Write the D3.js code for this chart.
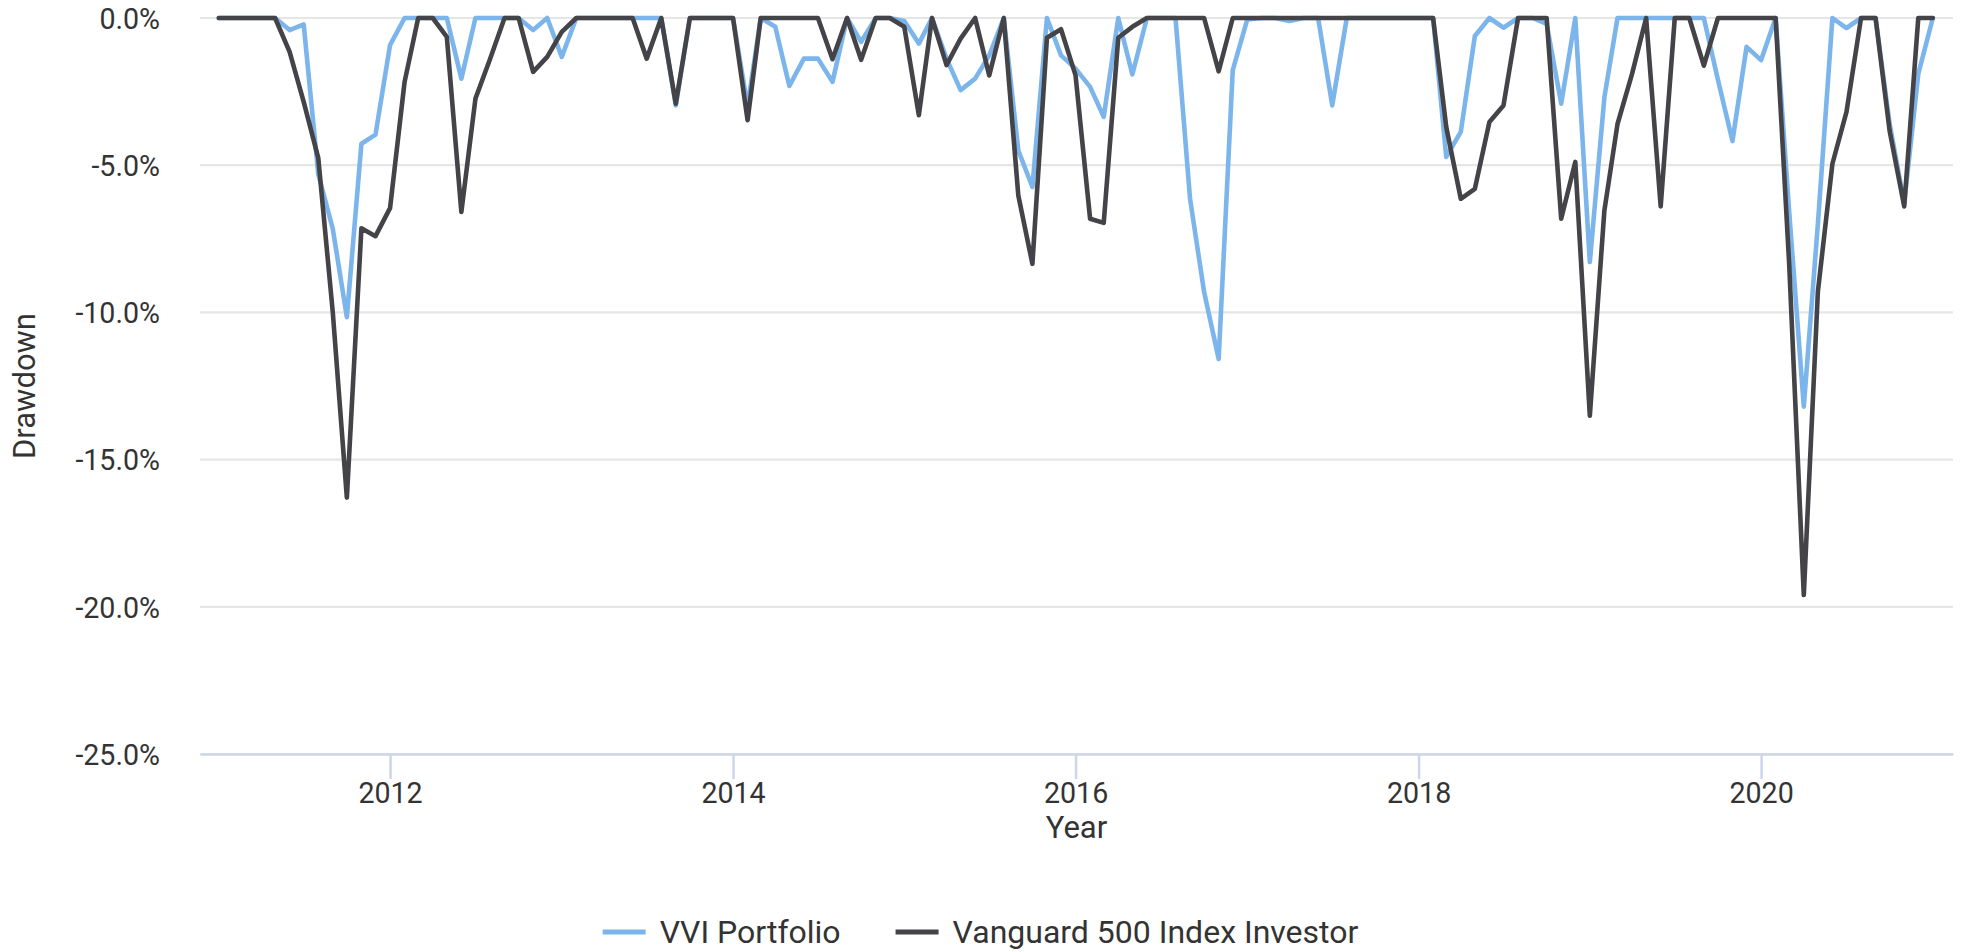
<!DOCTYPE html>
<html lang="en">
<head>
  <meta charset="UTF-8">
  <title>Drawdown</title>
  <script src="https://d3js.org/d3.v7.min.js"></script>
  <style>
    html, body {
      margin: 0;
      background: #fff;
    }
    svg {
      display: block;
    }
    text {
      font-family: Roboto, "Noto Sans", sans-serif;
      fill: #333;
    }
  </style>
</head>
<body>
  <svg width="1961" height="952"></svg>
  <script>
    // monthly points, Jan 2011 .. Jan 2021
    const months = d3.timeMonth.range(new Date(2011, 0, 1), new Date(2021, 1, 1));

    // drawdown in %, one row per year
    const vviPortfolio = [
      0, 0, 0, 0, 0, -0.41, -0.22, -5.3, -7.16, -10.16, -4.27, -3.96,
      -0.92, 0, 0, 0, 0, -2.06, 0, 0, 0, 0, -0.41, 0,
      -1.32, 0, 0, 0, 0, 0, 0, 0, -2.97, 0, 0, 0,
      0, -3.0, 0, -0.3, -2.31, -1.38, -1.38, -2.17, 0, -0.81, 0, 0,
      -0.1, -0.87, 0, -1.38, -2.45, -2.06, -1.27, 0, -4.5, -5.74, 0, -1.27,
      -1.72, -2.34, -3.36, 0, -1.92, 0, 0, 0, -6.14, -9.31, -11.58, -1.77,
      -0.05, 0, 0, -0.1, 0, 0, -2.97, 0, 0, 0, 0, 0,
      0, 0, -4.72, -3.87, -0.61, 0, -0.33, 0, 0, -0.2, -2.91, 0,
      -8.29, -2.7, 0, 0, 0, 0, 0, 0, 0, -2.1, -4.18, -0.98,
      -1.43, 0, -6.6, -13.2, -7.0, 0, -0.34, 0, 0, -3.6, -6.3, -1.9,
      0
    ];
    const vanguard500 = [
      0, 0, 0, 0, 0, -1.15, -2.85, -4.75, -10.0, -16.29, -7.14, -7.41,
      -6.46, -2.17, 0, 0, -0.64, -6.59, -2.74, -1.4, 0, 0, -1.83, -1.32,
      -0.47, 0, 0, 0, 0, 0, -1.38, 0, -2.91, 0, 0, 0,
      0, -3.47, 0, 0, 0, 0, 0, -1.4, 0, -1.42, 0, 0,
      -0.3, -3.3, 0, -1.6, -0.7, 0, -1.95, 0, -6.03, -8.35, -0.67, -0.38,
      -1.95, -6.82, -6.96, -0.67, -0.3, 0, 0, 0, 0, 0, -1.81, 0,
      0, 0, 0, 0, 0, 0, 0, 0, 0, 0, 0, 0,
      0, 0, -3.7, -6.14, -5.8, -3.53, -2.97, 0, 0, 0, -6.82, -4.89,
      -13.51, -6.54, -3.6, -1.9, 0, -6.4, 0, 0, -1.62, 0, 0, 0,
      0, 0, -8.4, -19.6, -9.3, -4.95, -3.19, 0, 0, -3.84, -6.4, 0,
      0
    ];

    const yTicks = [0, -5, -10, -15, -20, -25];
    const xTickYears = [2012, 2014, 2016, 2018, 2020];
    const seriesNames = ["VVI Portfolio", "Vanguard 500 Index Investor"];
    const seriesColors = ["#7cb5ec", "#434348"];

    const width = 1961, height = 952;
    const plotLeft = 200, plotRight = 1953, plotTop = 18, plotBottom = 754;

    const svg = d3.select("svg");

    const x = d3.scaleTime()
      .domain([new Date(2010, 10, 22), new Date(2021, 1, 13)])
      .range([plotLeft, plotRight]);
    const y = d3.scaleLinear()
      .domain([-25, 0])
      .range([plotBottom, plotTop]);

    // grid
    svg.append("g")
      .selectAll("line")
      .data(yTicks)
      .enter().append("line")
      .attr("x1", plotLeft)
      .attr("x2", plotRight)
      .attr("y1", d => y(d))
      .attr("y2", d => y(d))
      .attr("stroke", "#e6e6e6")
      .attr("stroke-width", 2.2);

    // y labels
    svg.append("g")
      .selectAll("text")
      .data(yTicks)
      .enter().append("text")
      .attr("x", 160)
      .attr("y", d => y(d))
      .attr("dy", "0.38em")
      .attr("text-anchor", "end")
      .style("font-size", "28.6px")
      .text(d => d.toFixed(1) + "%");

    // x axis
    const xAxis = svg.append("g")
      .attr("transform", `translate(0,${plotBottom})`)
      .call(d3.axisBottom(x)
        .tickValues(xTickYears.map(yr => new Date(yr, 0, 1)))
        .tickFormat(d3.timeFormat("%Y"))
        .tickSize(25)
        .tickSizeOuter(0)
        .tickPadding(4));
    xAxis.select(".domain").attr("stroke", "#ccd6eb").attr("stroke-width", 2.5);
    xAxis.selectAll(".tick line").attr("stroke", "#ccd6eb").attr("stroke-width", 2.5);
    xAxis.selectAll(".tick text")
      .attr("fill", "#333")
      .style("font-size", "28.6px")
      .style("font-family", "Roboto, 'Noto Sans', sans-serif");

    // axis titles
    svg.append("text")
      .attr("transform", "translate(24,386) rotate(-90)")
      .attr("text-anchor", "middle")
      .attr("dominant-baseline", "central")
      .style("font-size", "31px")
      .text("Drawdown");

    svg.append("text")
      .attr("x", (plotLeft + plotRight) / 2)
      .attr("y", 838)
      .attr("text-anchor", "middle")
      .style("font-size", "31px")
      .text("Year");

    // lines
    const line = d3.line()
      .x((d, i) => x(months[i]))
      .y(d => y(d));

    [vviPortfolio, vanguard500].forEach((values, k) => {
      svg.append("path")
        .datum(values)
        .attr("fill", "none")
        .attr("stroke", seriesColors[k])
        .attr("stroke-width", 4.6)
        .attr("stroke-linejoin", "round")
        .attr("stroke-linecap", "round")
        .attr("d", line);
    });

    // legend, centered on the page
    const legend = svg.append("g");
    let cursor = 0;
    seriesNames.forEach((name, k) => {
      const item = legend.append("g").attr("transform", `translate(${cursor},0)`);
      item.append("line")
        .attr("x1", 0)
        .attr("x2", 43)
        .attr("y1", 932)
        .attr("y2", 932)
        .attr("stroke", seriesColors[k])
        .attr("stroke-width", 5);
      const label = item.append("text")
        .attr("x", 57)
        .attr("y", 943)
        .style("font-size", "32px")
        .text(name);
      cursor += 57 + label.node().getComputedTextLength() + 55;
    });
    const legendWidth = cursor - 55;
    legend.attr("transform", `translate(${(width - legendWidth) / 2},0)`);
  </script>
</body>
</html>
